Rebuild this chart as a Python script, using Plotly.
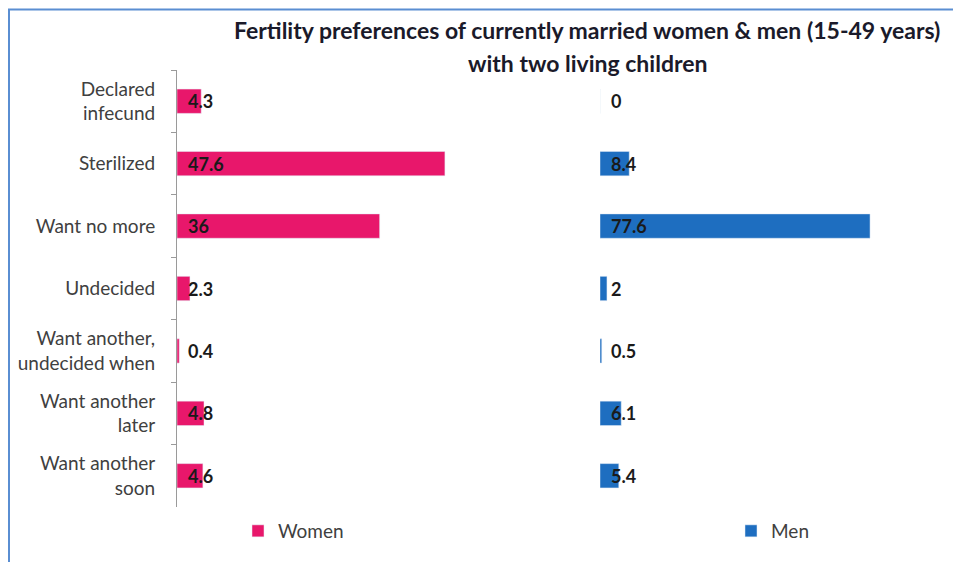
import plotly.graph_objects as go

categories = ["Declared<br>infecund", "Sterilized", "Want no more", "Undecided",
              "Want another,<br>undecided when", "Want another<br>later", "Want another<br>soon"]
women = [4.3, 47.6, 36, 2.3, 0.4, 4.8, 4.6]
men = [0, 8.4, 77.6, 2, 0.5, 6.1, 5.4]
women_labels = ["4.3", "47.6", "36", "2.3", "0.4", "4.8", "4.6"]
men_labels = ["0", "8.4", "77.6", "2", "0.5", "6.1", "5.4"]

PINK = "#E8176B"
BLUE = "#1E6EC0"
FONT = "Lato"

OFF = 8  # page body margin
W, H = 953, 554
ML, MR, MT, MB = 177 - OFF, 13, 70 - OFF, 55
PW = W - ML - MR
PH = H - MT - MB

def px_x(p):
    return (p - OFF - ML) / PW

def px_y(p):
    return (H - MB - (p - OFF)) / PH

fig = go.Figure()
fig.add_trace(go.Bar(y=categories, x=women, orientation="h", marker_color=PINK,
                     width=0.39, name="Women", xaxis="x", yaxis="y", legend="legend",
                     hoverinfo="skip"))
fig.add_trace(go.Bar(y=categories, x=men, orientation="h", marker_color=BLUE,
                     width=0.39, name="Men", xaxis="x2", yaxis="y2", legend="legend2",
                     hoverinfo="skip"))

annotations = []
for c, t in zip(categories, women_labels):
    annotations.append(dict(x=0, y=c, xref="x", yref="y", text=t, showarrow=False,
                            xanchor="left", xshift=9,
                            font=dict(family=FONT, size=18, color="#1a1a1a", weight="bold")))
for c, t in zip(categories, men_labels):
    annotations.append(dict(x=0, y=c, xref="x2", yref="y2", text=t, showarrow=False,
                            xanchor="left", xshift=9,
                            font=dict(family=FONT, size=18, color="#1a1a1a", weight="bold")))

annotations.append(dict(x=px_x(587), y=px_y(30), xref="paper", yref="paper",
                        text="Fertility preferences of currently married women & men (15-49 years)",
                        showarrow=False, xanchor="center", yanchor="middle",
                        font=dict(family=FONT, size=23, color="#1a1a2a", weight="bold")))
annotations.append(dict(x=px_x(587), y=px_y(63), xref="paper", yref="paper",
                        text="with two living children",
                        showarrow=False, xanchor="center", yanchor="middle",
                        font=dict(family=FONT, size=23, color="#1a1a2a", weight="bold")))

shapes = [
    dict(type="line", xref="paper", yref="paper", x0=px_x(8), x1=px_x(980),
         y0=px_y(9.5), y1=px_y(9.5), line=dict(color="#5A8ED2", width=2)),
    dict(type="line", xref="paper", yref="paper", x0=px_x(9), x1=px_x(9),
         y0=px_y(9.5), y1=px_y(600), line=dict(color="#5A8ED2", width=2)),
]

fig.update_layout(
    width=W, height=H,
    margin=dict(l=ML, r=MR, t=MT, b=MB),
    paper_bgcolor="white", plot_bgcolor="white",
    showlegend=True,
    xaxis=dict(domain=[0, px_x(571)], range=[0, 70], visible=False, fixedrange=True),
    xaxis2=dict(domain=[px_x(600), 1], range=[0, 100], visible=False, fixedrange=True),
    yaxis=dict(anchor="x", autorange="reversed", type="category",
               showline=True, linecolor="#9a9a9a", linewidth=1,
               ticks="outside", ticklen=5, tickcolor="#9a9a9a", tickson="boundaries",
               ticklabelstandoff=17, showgrid=False, automargin=False,
               tickfont=dict(family=FONT, size=19, color="#404040")),
    yaxis2=dict(anchor="x2", matches="y", autorange="reversed", type="category",
                visible=False),
    legend=dict(x=px_x(238), y=px_y(531), xanchor="left", yanchor="middle",
                orientation="h", bgcolor="rgba(0,0,0,0)",
                font=dict(family=FONT, size=19, color="#404040")),
    legend2=dict(x=px_x(731), y=px_y(531), xanchor="left", yanchor="middle",
                 orientation="h", bgcolor="rgba(0,0,0,0)",
                 font=dict(family=FONT, size=19, color="#404040")),
    annotations=annotations,
    shapes=shapes,
)

fig.write_html("out.html")
